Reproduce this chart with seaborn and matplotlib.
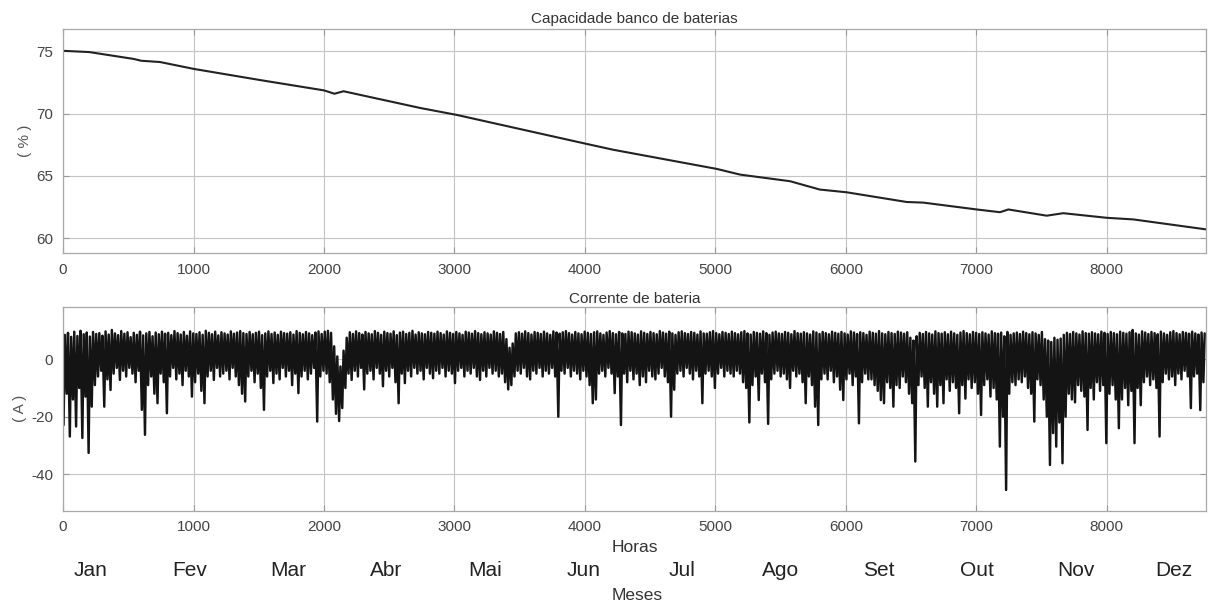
import matplotlib
matplotlib.use("Agg")
import matplotlib.pyplot as plt
import numpy as np
import pandas as pd
import seaborn as sns

# State of charge of the battery bank (hour of year, %)
horas_cap = [0, 200, 540, 600, 743, 1000, 1510, 2000, 2080, 2150, 2740, 3017,
             4012, 4216, 5010, 5190, 5572, 5800, 6006, 6466, 6594, 7002, 7181,
             7245, 7539, 7666, 7999, 8203, 8760]
capacidade = [75.05, 74.95, 74.4, 74.25, 74.15, 73.6, 72.7, 71.87, 71.6, 71.8,
              70.45, 69.9, 67.57, 67.1, 65.56, 65.1, 64.57, 63.9, 63.68, 62.9,
              62.85, 62.3, 62.08, 62.3, 61.8, 62.0, 61.63, 61.5, 60.7]

# Daily minimum battery current (A), one row per month
corrente_min = [
    # Jan
    -22.9, -12, -26.9, -14, -23.4, -10, -27.4, -13, -32.6, -16.5, -9, -6, -4, -16.5, -7, -10.7,
    -5, -3, -7.2, -4, -6, -3, -5, -8, -4, -17.6, -26.3, -9, -6, -12, -15.3,
    # Fev
    -5, -8, -18.8, -6, -3, -7, -5, -9, -4, -6, -13, -8, -5, -11, -15.3, -6, -4, -7.2, -3, -6,
    -5, -4, -7, -3, -6, -9, -12, -14.7,
    # Mar
    -6, -4, -8, -5, -10, -17.6, -6, -4, -8.3, -5, -7, -3, -6, -4, -9, -5, -11.8, -6, -4, -7,
    -5, -3, -21.7, -6, -4, -5, -8, -14, -19, -21.5, -17,
    # Abr
    -10, -5, -7.2, -4, -6, -3, -10.5, -5, -4, -7, -3, -5, -9.4, -4, -6, -3, -8, -15.3, -5, -8.3,
    -4, -6, -3, -5, -4, -7, -3, -5, -6.6, -4,
    # Mai
    -5, -3, -6, -4, -5, -8.3, -4, -3, -6, -4, -5, -3, -6, -7.2, -4, -6, -3, -5, -4, -6,
    -5, -8, -10.5, -9, -6, -4, -5, -3, -6, -7, -4,
    # Jun
    -5, -3, -6, -4, -5, -3, -6, -20, -4, -5, -3, -6, -4, -5, -7, -4, -6, -9, -15.3, -14,
    -5, -4, -6, -3, -5, -11.8, -6, -22.9, -5, -8,
    # Jul
    -4, -7, -5, -9, -6, -8, -4, -6, -7, -5, -3, -6, -8, -20, -10.6, -5, -4, -6, -3, -5,
    -7, -4, -6, -15.3, -5, -4, -6, -10, -5, -3, -6,
    # Ago
    -4, -5, -6, -4, -5, -8, -10, -22, -9, -6, -14.2, -5, -8, -22.5, -7, -5, -4, -6, -5, -7,
    -10, -4, -6, -5, -8, -15.3, -6, -9, -16.5, -22.9, -7,
    # Set
    -5, -7, -4, -8, -6, -10.6, -14.2, -7, -5, -9, -6, -22.3, -8, -5, -7, -7, -9, -11, -14.2, -15.3,
    -8, -10, -16.5, -9, -10, -6, -8, -12, -15.3, -35.6,
    # Out
    -9, -6, -10, -16.5, -8, -12, -16.5, -9, -15.3, -7, -11, -8, -10, -18.8, -9, -13.7, -7, -10, -8, -12,
    -19.4, -9, -7, -13, -10, -14, -30.4, -20, -45.5, -12, -8,
    # Nov
    -9, -7, -8, -6, -10, -12, -21.7, -7, -9, -14, -20, -36.8, -25.7, -30.4, -22, -36.2, -20, -12, -14, -15,
    -9, -11, -13, -24.6, -10, -14, -8, -11, -9, -29.2,
    # Dez
    -12, -9, -14, -24, -14, -10, -16, -11, -29.2, -10, -16, -8, -6, -9, -7, -10, -26.9, -8, -5, -7,
    -6, -9, -5, -7, -4, -6, -17, -6, -5, -17.7, -8,
]

# Daily maximum battery current (A), one row per month
corrente_max = [
    # Jan
    8.5, 9.2, 7.8, 9.6, 8.1, 9.9, 8.7, 9.3, 7.9, 9.5, 8.8, 9.1, 8.2, 9.7, 8.6, 10.2,
    9.0, 8.4, 9.8, 8.9, 9.4, 7.7, 9.2, 8.5, 9.6, 8.3, 9.0, 9.5, 8.0, 9.3, 8.7,
    # Fev
    9.6, 8.9, 9.2, 8.4, 9.8, 9.1, 8.6, 9.5, 8.2, 9.7, 9.0, 8.8, 9.4, 8.5, 9.9, 9.2,
    8.7, 9.6, 8.3, 9.4, 9.0, 8.6, 9.7, 8.9, 9.3, 9.8, 9.1, 8.8,
    # Mar
    9.5, 8.7, 9.2, 9.6, 8.4, 9.0, 9.7, 8.8, 9.3, 8.5, 9.6, 9.1, 8.9, 9.4, 8.6, 9.8,
    9.2, 8.7, 9.5, 9.0, 8.4, 9.3, 9.7, 8.8, 9.6, 9.9, 9.2, 4.5, 1.0, -2.5, 3.0,
    # Abr
    7.5, 9.4, 8.8, 9.7, 9.1, 8.6, 9.5, 9.0, 8.7, 9.8, 9.2, 8.5, 9.6, 9.1, 8.9, 9.7,
    8.4, 9.3, 9.6, 8.8, 9.2, 9.9, 8.6, 9.4, 9.0, 8.7, 9.5, 9.2, 8.9, 9.6,
    # Mai
    9.1, 8.6, 9.7, 9.2, 8.8, 9.5, 9.0, 8.5, 9.6, 9.3, 8.9, 9.8, 9.1, 8.7, 9.4, 9.0,
    8.6, 9.7, 9.2, 8.8, 9.5, 7.0, 4.0, 5.5, 9.0, 9.4, 8.9, 9.7, 9.1, 8.6, 9.5,
    # Jun
    9.2, 8.8, 9.6, 9.0, 8.5, 9.7, 9.3, 8.9, 9.4, 9.8, 9.1, 8.6, 9.5, 9.0, 8.7, 9.6,
    9.2, 8.8, 9.4, 9.7, 9.0, 8.5, 9.3, 9.8, 9.1, 8.7, 9.5, 9.0, 8.8, 9.6,
    # Jul
    9.4, 9.0, 8.6, 9.7, 9.2, 8.8, 9.5, 9.1, 8.7, 9.8, 9.3, 8.9, 9.6, 9.0, 8.5, 9.4,
    9.7, 9.1, 8.8, 9.5, 9.2, 8.6, 9.7, 9.0, 8.9, 9.4, 9.8, 9.1, 8.7, 9.5, 9.2,
    # Ago
    8.8, 9.6, 9.1, 8.7, 9.4, 9.8, 9.0, 8.6, 9.5, 9.2, 8.9, 9.7, 9.1, 8.5, 9.3, 9.6,
    9.0, 8.8, 9.5, 9.2, 8.7, 9.8, 9.1, 8.9, 9.4, 9.0, 8.6, 9.7, 9.3, 8.8, 9.5,
    # Set
    9.1, 8.7, 9.6, 9.2, 8.9, 9.5, 9.0, 8.6, 9.7, 9.3, 8.8, 9.4, 9.1, 8.5, 9.6, 9.2,
    8.9, 9.8, 9.0, 8.7, 9.5, 9.1, 8.8, 9.6, 9.3, 8.9, 9.4, 7.5, 6.5, 8.0,
    # Out
    9.2, 8.8, 9.5, 9.0, 8.6, 9.7, 9.1, 8.9, 9.4, 8.7, 9.6, 9.0, 8.5, 9.3, 9.8, 9.1,
    8.7, 9.5, 9.2, 8.8, 9.4, 9.0, 8.6, 9.7, 9.1, 8.9, 9.3, 8.0, 9.5, 8.5, 9.0,
    # Nov
    9.3, 8.8, 9.6, 9.1, 8.7, 9.4, 9.0, 8.5, 9.5, 7.0, 6.5, 6.0, 7.5, 6.8, 7.2, 8.5,
    9.2, 8.8, 9.5, 9.0, 8.6, 9.7, 9.1, 8.9, 9.4, 9.0, 8.7, 9.6, 9.2, 8.8,
    # Dez
    9.5, 9.1, 8.7, 9.6, 9.2, 8.9, 9.4, 10.2, 9.0, 8.6, 9.7, 9.3, 8.8, 9.5, 9.1, 8.7,
    9.6, 9.0, 8.5, 9.4, 9.8, 9.1, 8.7, 9.5, 9.2, 8.9, 9.6, 9.0, 8.6, 9.3, 9.0,
]

meses = ["Jan", "Fev", "Mar", "Abr", "Mai", "Jun", "Jul", "Ago", "Set", "Out", "Nov", "Dez"]
ticks_horas = [0, 1000, 2000, 3000, 4000, 5000, 6000, 7000, 8000]

sns.set_theme(style="whitegrid")
plt.rcParams["font.family"] = ["Liberation Sans", "DejaVu Sans"]
plt.rcParams["axes.unicode_minus"] = False

df_cap = pd.DataFrame({"hora": horas_cap, "cap": capacidade})

# Hourly current: night discharge (minimum) then daytime charge (maximum) for each day
dias = np.arange(len(corrente_min))
horas_i = np.ravel(np.column_stack([dias * 24 + 4, dias * 24 + 14]))
valores_i = np.ravel(np.column_stack([corrente_min, corrente_max]))
df_cor = pd.DataFrame({"hora": horas_i, "corrente": valores_i})

fig = plt.figure(figsize=(12.1, 6.05), dpi=100)
ax1 = fig.add_axes([0.0521, 0.5818, 0.9446, 0.3702])
ax2 = fig.add_axes([0.0521, 0.1559, 0.9446, 0.3372])

sns.lineplot(data=df_cap, x="hora", y="cap", ax=ax1, color="#222222", linewidth=1.5)
sns.lineplot(data=df_cor, x="hora", y="corrente", ax=ax2, color="#141414",
             linewidth=1.75, sort=False, estimator=None)

ax1.set_xlim(0, 8760)
ax1.set_ylim(58.8, 76.8)
ax1.set_yticks([60, 65, 70, 75])
ax2.set_xlim(0, 8760)
ax2.set_ylim(-52.7, 18.3)
ax2.set_yticks([-40, -20, 0])

for ax in (ax1, ax2):
    ax.set_xticks(ticks_horas)
    ax.set_xlabel("")
    ax.set_ylabel("")
    ax.grid(True, color="#c4c4c4", linewidth=0.8)
    ax.tick_params(axis="both", direction="in", length=4, width=0.8, color="#999999",
                   labelsize=11, labelcolor="#444444", pad=7, top=True, right=True,
                   bottom=True, left=True)
    for s in ax.spines.values():
        s.set_color("#a8a8a8")
        s.set_linewidth(0.9)

ax1.set_title("Capacidade banco de baterias", fontsize=11, color="#333333", pad=4)
ax2.set_title("Corrente de bateria", fontsize=11, color="#333333", pad=3)

fig.text(25 / 1210, 1 - 141 / 605, "( % )", rotation=90, ha="center", va="center",
         fontsize=11, color="#555555")
fig.text(20 / 1210, 1 - 408 / 605, "( A )", rotation=90, ha="center", va="center",
         fontsize=11, color="#555555")

fig.text(635 / 1210, 1 - 547 / 605, "Horas", ha="center", va="center",
         fontsize=12.5, color="#333333")
fig.text(637 / 1210, 1 - 596 / 605, "Meses", ha="center", va="center",
         fontsize=12.5, color="#333333")
for i, m in enumerate(meses):
    fig.text((90.8 + i * 98.5) / 1210, 1 - 570 / 605, m, ha="center", va="center",
             fontsize=15, color="#222222")

fig.savefig("out.png", dpi=100)
